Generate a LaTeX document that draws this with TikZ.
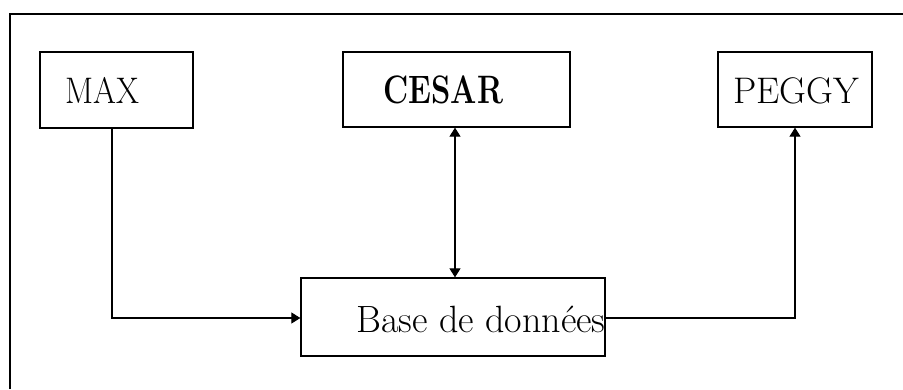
\documentclass[tikz,border=0pt]{standalone}
\usetikzlibrary{arrows.meta}
\begin{document}
\begin{tikzpicture}[x=1pt,y=1pt,
  box/.style={draw=black,line width=1.3pt,rectangle,inner sep=0pt},
  lbl/.style={inner sep=0pt,anchor=base west,font=\fontsize{33}{36}\selectfont},
  conn/.style={draw=black,line width=1.1pt},
  tip/.style={-{Triangle[width=11pt,length=9pt]}}
]
\useasboundingbox (0,0) rectangle (903,389);
% outer frame
\draw[line width=1.8pt] (10,0) -- (10,375) -- (903,375);
% boxes
\node[box,minimum width=153pt,minimum height=76pt] (max) at (116.5,299) {};
\node[box,minimum width=227pt,minimum height=75pt] (cesar) at (456.5,299.5) {};
\node[box,minimum width=154pt,minimum height=75pt] (peggy) at (795,299.5) {};
\node[box,minimum width=304pt,minimum height=78pt] (base) at (453,72) {};
% labels
\node[lbl] (tmax) at (65,285) {\scalebox{1}[1.12]{MAX}};
\node[lbl,font=\fontsize{31}{34}\selectfont\bfseries] (tcesar) at (383,285) {\scalebox{1}[1.28]{CESAR}};
\node[lbl,font=\fontsize{37}{40}\selectfont] (tpeggy) at (733,285) {PEGGY};
\node[lbl,font=\fontsize{38}{42}\selectfont] (tbase) at (356,57) {Base de donn\'ees};
% connectors
\coordinate (maxdown) at (112,71);
\draw[conn,tip] ([xshift=-4.5pt]max.south) -- (maxdown) -- (maxdown -| base.west);
\coordinate (cesarbot) at (455,0);
\draw[conn,{Triangle[width=11pt,length=9pt]}-{Triangle[width=11pt,length=9pt]}] (cesar.south -| cesarbot) -- (base.north -| cesarbot);
\coordinate (peggyline) at (795,71);
\draw[conn,tip] (base.east |- peggyline) -- (peggyline) -- (peggy.south);
\end{tikzpicture}
\end{document}
